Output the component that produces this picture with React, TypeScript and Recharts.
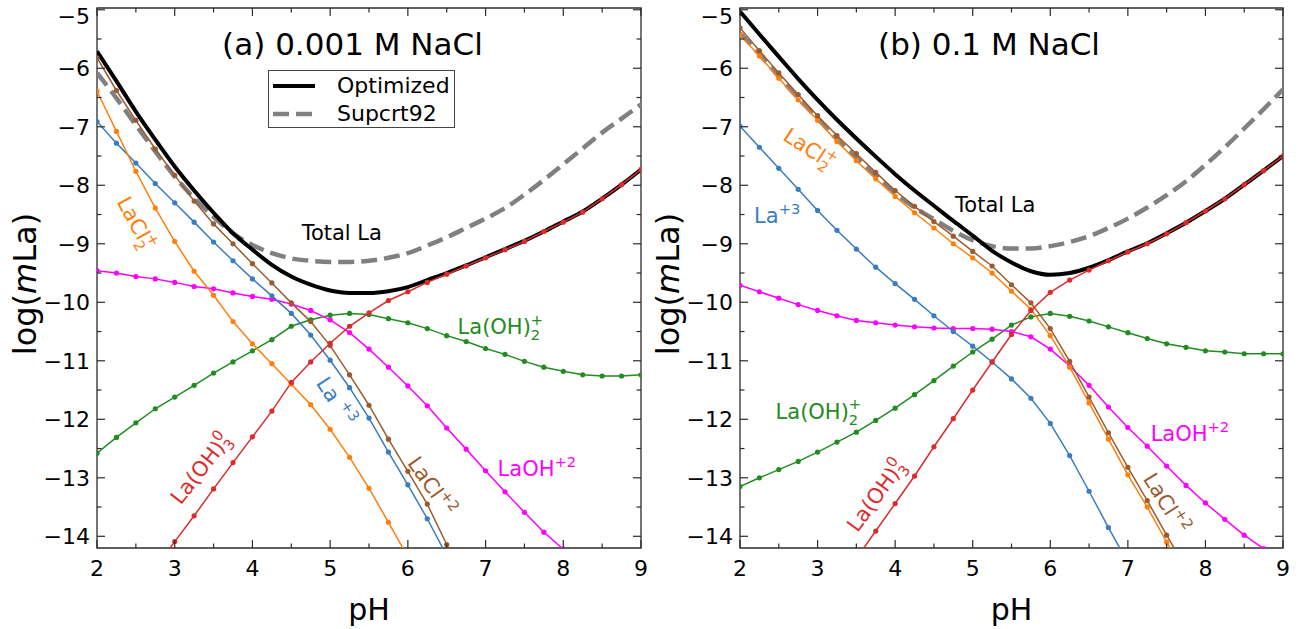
import React from 'react';
import { LineChart, Line, XAxis, YAxis, ReferenceArea, ReferenceDot, Legend, Label } from 'recharts';

const FONT = '"DejaVu Sans", Verdana, sans-serif';
const AXIS = '#2b2b2b';
const TOP = 8;
const H = 629;
const X_H = 81;
const Y_MIN = -14.2;
const Y_MAX = -4.97;

const pH = [2, 2.25, 2.5, 2.75, 3, 3.25, 3.5, 3.75, 4, 4.25, 4.5, 4.75, 5, 5.25, 5.5, 5.75, 6, 6.25, 6.5, 6.75, 7, 7.25, 7.5, 7.75, 8, 8.25, 8.5, 8.75, 9];

const xTicks = [2, 2.5, 3, 3.5, 4, 4.5, 5, 5.5, 6, 6.5, 7, 7.5, 8, 8.5, 9];
const yTicks = [-14, -13.5, -13, -12.5, -12, -11.5, -11, -10.5, -10, -9.5, -9, -8.5, -8, -7.5, -7, -6.5, -6, -5.5, -5];

// (a) 0.001 M NaCl
const totalA = [-5.71, -6.22, -6.74, -7.22, -7.68, -8.09, -8.47, -8.82, -9.10, -9.36, -9.56, -9.70, -9.80, -9.84, -9.84, -9.81, -9.74, -9.62, -9.50, -9.37, -9.23, -9.09, -8.95, -8.79, -8.62, -8.45, -8.23, -7.99, -7.73];
const supcrtA = [-6.08, -6.51, -6.97, -7.42, -7.85, -8.22, -8.54, -8.82, -9.02, -9.16, -9.25, -9.29, -9.31, -9.31, -9.29, -9.24, -9.16, -9.03, -8.89, -8.73, -8.57, -8.39, -8.16, -7.91, -7.64, -7.37, -7.10, -6.86, -6.62];
const la3A = [-6.91, -7.28, -7.62, -7.97, -8.30, -8.63, -8.97, -9.29, -9.60, -9.89, -10.19, -10.56, -10.99, -11.46, -11.98, -12.56, -13.12, -13.70, -14.33, null, null, null, null, null, null, null, null, null, null];
const laCl2A = [-5.82, -6.38, -6.89, -7.38, -7.83, -8.27, -8.66, -9.00, -9.34, -9.67, -10.01, -10.33, -10.74, -11.24, -11.76, -12.34, -12.89, -13.45, -14.14, -14.85, null, null, null, null, null, null, null, null, null];
const laCl2pA = [-6.39, -7.08, -7.76, -8.39, -8.96, -9.47, -9.88, -10.33, -10.71, -11.05, -11.40, -11.75, -12.17, -12.65, -13.18, -13.76, -14.35, null, null, null, null, null, null, null, null, null, null, null, null];
const laOH2A = [-9.46, -9.50, -9.56, -9.60, -9.66, -9.73, -9.77, -9.84, -9.90, -9.95, -10.03, -10.14, -10.30, -10.52, -10.80, -11.11, -11.43, -11.77, -12.15, -12.51, -12.88, -13.24, -13.59, -13.93, -14.22, -14.52, null, null, null];
const laOH2pA = [-12.58, -12.31, -12.06, -11.82, -11.62, -11.42, -11.21, -11.02, -10.83, -10.64, -10.41, -10.30, -10.22, -10.19, -10.21, -10.28, -10.35, -10.45, -10.57, -10.67, -10.79, -10.89, -11.01, -11.11, -11.18, -11.24, -11.26, -11.26, -11.24];
const laOH3A = [null, null, null, -14.55, -14.09, -13.65, -13.19, -12.74, -12.30, -11.86, -11.37, -11.02, -10.70, -10.41, -10.18, -9.97, -9.82, -9.66, -9.52, -9.38, -9.24, -9.10, -8.96, -8.79, -8.63, -8.46, -8.23, -7.99, -7.73];

// (b) 0.1 M NaCl
const totalB = [-5.03, -5.42, -5.80, -6.18, -6.54, -6.88, -7.20, -7.51, -7.81, -8.09, -8.35, -8.61, -8.86, -9.12, -9.32, -9.47, -9.53, -9.50, -9.41, -9.28, -9.13, -8.99, -8.82, -8.64, -8.44, -8.23, -7.99, -7.75, -7.50];
const supcrtB = [-5.40, -5.76, -6.14, -6.51, -6.86, -7.21, -7.53, -7.84, -8.13, -8.38, -8.58, -8.78, -8.94, -9.04, -9.08, -9.08, -9.04, -8.97, -8.87, -8.73, -8.57, -8.38, -8.17, -7.93, -7.65, -7.35, -7.03, -6.70, -6.36];
const la3B = [-6.99, -7.35, -7.71, -8.07, -8.43, -8.77, -9.09, -9.40, -9.68, -9.95, -10.23, -10.50, -10.75, -11.02, -11.31, -11.64, -12.07, -12.62, -13.23, -13.85, -14.45, null, null, null, null, null, null, null, null];
const laCl2B = [-5.31, -5.70, -6.08, -6.45, -6.81, -7.15, -7.46, -7.78, -8.09, -8.36, -8.62, -8.87, -9.13, -9.38, -9.70, -10.01, -10.45, -11.01, -11.62, -12.23, -12.82, -13.39, -13.98, -14.55, null, null, null, null, null];
const laCl2pB = [-5.43, -5.79, -6.17, -6.54, -6.89, -7.25, -7.58, -7.89, -8.19, -8.47, -8.73, -9.00, -9.24, -9.50, -9.81, -10.12, -10.57, -11.11, -11.72, -12.34, -12.95, -13.50, -14.10, -14.65, null, null, null, null, null];
const laOH2B = [-9.71, -9.82, -9.93, -10.04, -10.14, -10.23, -10.31, -10.35, -10.39, -10.42, -10.44, -10.45, -10.45, -10.46, -10.50, -10.59, -10.80, -11.09, -11.42, -11.79, -12.14, -12.46, -12.80, -13.13, -13.43, -13.71, -13.98, -14.21, -14.45];
const laOH2pB = [-13.15, -13.00, -12.86, -12.72, -12.56, -12.39, -12.22, -12.02, -11.81, -11.58, -11.34, -11.09, -10.85, -10.63, -10.39, -10.25, -10.19, -10.24, -10.32, -10.42, -10.52, -10.62, -10.71, -10.77, -10.83, -10.85, -10.88, -10.88, -10.88];
const laOH3B = [null, null, null, null, null, null, -14.38, -13.91, -13.44, -12.97, -12.47, -11.99, -11.50, -11.02, -10.55, -10.14, -9.83, -9.62, -9.45, -9.29, -9.14, -9.00, -8.83, -8.64, -8.44, -8.23, -7.99, -7.75, -7.50];

const C = {
  la3: '#3a7dbf',
  laCl2: '#9c5b2f',
  laCl2p: '#ff7f0e',
  laOH2: '#ff00ff',
  laOH2p: '#228b22',
  laOH3: '#dc2b2b',
};

// species drawn on top of the totals, in this order
const SPECIES = ['laOH2p', 'laOH2', 'la3', 'laCl2p', 'laCl2', 'laOH3'] as const;

function buildRows(cols: Record<string, (number | null)[]>) {
  return pH.map((p, i) => {
    const row: Record<string, number | null> = { pH: p };
    for (const k of Object.keys(cols)) row[k] = cols[k][i];
    return row;
  });
}

const rowsA = buildRows({ total: totalA, supcrt: supcrtA, la3: la3A, laCl2: laCl2A, laCl2p: laCl2pA, laOH2: laOH2A, laOH2p: laOH2pA, laOH3: laOH3A });
const rowsB = buildRows({ total: totalB, supcrt: supcrtB, la3: la3B, laCl2: laCl2B, laCl2p: laCl2pB, laOH2: laOH2B, laOH2p: laOH2pB, laOH3: laOH3B });

type Note = { x: number; y: number; text: string; sub?: string; sup?: string; color: string; angle?: number; size?: number; anchor?: 'start' | 'middle' | 'end' };

const notesA: Note[] = [
  { x: 3.61, y: -5.58, text: '(a) 0.001 M NaCl', color: '#000', size: 31, anchor: 'start' },
  { x: 5.15, y: -8.8, text: 'Total La', color: '#000', size: 21 },
  { x: 2.51, y: -8.65, text: 'LaCl', sub: '2', sup: '+', color: C.laCl2p, angle: 61 },
  { x: 5.08, y: -11.69, text: 'La ', sup: '+3', color: C.la3, angle: 57 },
  { x: 7.19, y: -10.41, text: 'La(OH)', sub: '2', sup: '+', color: C.laOH2p },
  { x: 3.33, y: -12.84, text: 'La(OH)', sub: '3', sup: '0', color: C.laOH3, angle: -52 },
  { x: 6.31, y: -13.14, text: 'LaCl', sup: '+2', color: C.laCl2, angle: 55 },
  { x: 7.66, y: -12.84, text: 'LaOH', sup: '+2', color: C.laOH2 },
];

const notesB: Note[] = [
  { x: 3.78, y: -5.58, text: '(b) 0.1 M NaCl', color: '#000', size: 31, anchor: 'start' },
  { x: 5.29, y: -8.32, text: 'Total La', color: '#000', size: 21 },
  { x: 2.9, y: -7.37, text: 'LaCl', sub: '2', sup: '+', color: C.laCl2p, angle: 33 },
  { x: 2.48, y: -8.51, text: 'La', sup: '+3', color: C.la3 },
  { x: 3.01, y: -11.86, text: 'La(OH)', sub: '2', sup: '+', color: C.laOH2p },
  { x: 7.8, y: -12.24, text: 'LaOH', sup: '+2', color: C.laOH2 },
  { x: 3.75, y: -13.3, text: 'La(OH)', sub: '3', sup: '0', color: C.laOH3, angle: -54 },
  { x: 7.5, y: -13.43, text: 'LaCl', sup: '+2', color: C.laCl2, angle: 58 },
];

function NoteText({ viewBox, note }: { viewBox: any; note: Note }) {
  const x = viewBox.x;
  const y = viewBox.y;
  const s = note.size ?? 21;
  const small = s * 0.7;
  return (
    <text
      x={x}
      y={y + s * 0.36}
      fill={note.color}
      fontSize={s}
      fontFamily={FONT}
      textAnchor={note.anchor ?? 'middle'}
      transform={note.angle ? `rotate(${note.angle} ${x} ${y})` : undefined}
    >
      <tspan>{note.text}</tspan>
      {note.sub && <tspan fontSize={small} dy={s * 0.28}>{note.sub}</tspan>}
      {note.sup && (
        <tspan fontSize={small} dx={note.sub ? -small * 0.64 : 0} dy={note.sub ? -s * 0.72 : -s * 0.42}>
          {note.sup}
        </tspan>
      )}
    </text>
  );
}

function XTick(props: any) {
  const { x, y, payload } = props;
  const v = payload.value;
  const major = Number.isInteger(v);
  const len = major ? 8 : 4.5;
  return (
    <g>
      <line x1={x} y1={y} x2={x} y2={y - len} stroke={AXIS} strokeWidth={1.2} />
      <line x1={x} y1={TOP} x2={x} y2={TOP + len} stroke={AXIS} strokeWidth={1.2} />
      {major && (
        <text x={x} y={y + 28} textAnchor="middle" fontSize={22} fontFamily={FONT} fill="#000">
          {v}
        </text>
      )}
    </g>
  );
}

function YTick(props: any) {
  const { x, y, payload, right } = props;
  const v = payload.value;
  const major = Number.isInteger(v);
  const len = major ? 8 : 4.5;
  const label = v < 0 ? `\u2212${Math.abs(v)}` : `${v}`;
  return (
    <g>
      <line x1={x} y1={y} x2={x + len} y2={y} stroke={AXIS} strokeWidth={1.2} />
      <line x1={right} y1={y} x2={right - len} y2={y} stroke={AXIS} strokeWidth={1.2} />
      {major && (
        <text x={x - 7} y={Math.max(y, TOP + 8) + 8} textAnchor="end" fontSize={22} fontFamily={FONT} fill="#000">
          {label}
        </text>
      )}
    </g>
  );
}

function LegendBox() {
  const items = [
    { name: 'Optimized', color: '#000', width: 4, dash: undefined as string | undefined },
    { name: 'Supcrt92', color: '#808080', width: 4.5, dash: '16 7' },
  ];
  return (
    <div style={{ width: 187, height: 58, border: '1.2px solid #444', boxSizing: 'border-box', background: '#fff', position: 'relative', fontFamily: FONT, fontSize: 22 }}>
      {items.map((it, i) => (
        <div key={it.name} style={{ position: 'absolute', left: 0, top: 2 + i * 28, height: 26, width: 185 }}>
          <svg width={50} height={26} style={{ position: 'absolute', left: 3, top: 0 }}>
            <line x1={1} y1={13} x2={43} y2={13} stroke={it.color} strokeWidth={it.width} strokeDasharray={it.dash} />
          </svg>
          <span style={{ position: 'absolute', left: 68, top: 0, lineHeight: '26px', color: '#000' }}>{it.name}</span>
        </div>
      ))}
    </div>
  );
}

function Panel({ rows, notes, left, width, yw, mr, legend }: { rows: any[]; notes: Note[]; left: number; width: number; yw: number; mr: number; legend?: boolean }) {
  const plotRight = width - mr;
  return (
    <div style={{ position: 'absolute', left, top: 0 }}>
      <LineChart width={width} height={H} data={rows} margin={{ top: TOP, right: mr, bottom: 0, left: 0 }} style={{ overflow: 'visible' }}>
        <XAxis
          dataKey="pH"
          type="number"
          domain={[2, 9]}
          ticks={xTicks}
          interval={0}
          allowDataOverflow
          height={X_H}
          axisLine={false}
          tickLine={false}
          tickSize={0}
          tickMargin={0}
          tick={(p: any) => <XTick {...p} />}
        >
          <Label
            content={(p: any) => (
              <text x={p.viewBox.x + p.viewBox.width / 2} y={p.viewBox.y + 72} textAnchor="middle" fontSize={30} fontFamily={FONT} fill="#000">
                pH
              </text>
            )}
          />
        </XAxis>
        <YAxis
          type="number"
          domain={[Y_MIN, Y_MAX]}
          ticks={yTicks}
          interval={0}
          allowDataOverflow
          width={yw}
          axisLine={false}
          tickLine={false}
          tickSize={0}
          tickMargin={0}
          tick={(p: any) => <YTick {...p} right={plotRight} />}
        >
          <Label
            content={(p: any) => {
              const cx = p.viewBox.x + p.viewBox.width - 61;
              const cy = p.viewBox.y + p.viewBox.height / 2 + 6;
              return (
                <text x={cx} y={cy} transform={`rotate(-90 ${cx} ${cy})`} textAnchor="middle" fontSize={32} fontFamily={FONT} fill="#000">
                  log(<tspan fontStyle="italic">m</tspan>La)
                </text>
              );
            }}
          />
        </YAxis>
        <ReferenceArea x1={2} x2={9} y1={Y_MIN} y2={Y_MAX} fill="none" fillOpacity={0} stroke={AXIS} strokeWidth={1.3} />
        {legend && (
          <Legend layout="vertical" align="center" verticalAlign="middle" content={() => <LegendBox />} wrapperStyle={{ left: 268, top: 70, width: 187 }} />
        )}
        <Line name="Supcrt92" dataKey="supcrt" type="monotone" stroke="#808080" strokeWidth={4.5} strokeDasharray="16 7" dot={false} activeDot={false} isAnimationActive={false} />
        <Line name="Optimized" dataKey="total" type="monotone" stroke="#000" strokeWidth={4} dot={false} activeDot={false} isAnimationActive={false} />
        {SPECIES.map((k) => (
          <Line
            key={k}
            dataKey={k}
            type="linear"
            stroke={C[k]}
            strokeWidth={1.5}
            dot={{ r: 2.6, fill: C[k], stroke: 'none' }}
            activeDot={false}
            legendType="none"
            isAnimationActive={false}
          />
        ))}
        {notes.map((n, i) => (
          <ReferenceDot key={i} x={n.x} y={n.y} r={0} fill="none" stroke="none" label={(p: any) => <NoteText viewBox={p.viewBox} note={n} />} />
        ))}
      </LineChart>
    </div>
  );
}

export default function App() {
  return (
    <div style={{ position: 'absolute', left: 0, top: 0, width: 1301, height: 629, background: '#fff', fontFamily: FONT }}>
      <Panel rows={rowsA} notes={notesA} left={0} width={660} yw={97} mr={19} legend />
      <Panel rows={rowsB} notes={notesB} left={645} width={656} yw={95} mr={18} />
    </div>
  );
}
